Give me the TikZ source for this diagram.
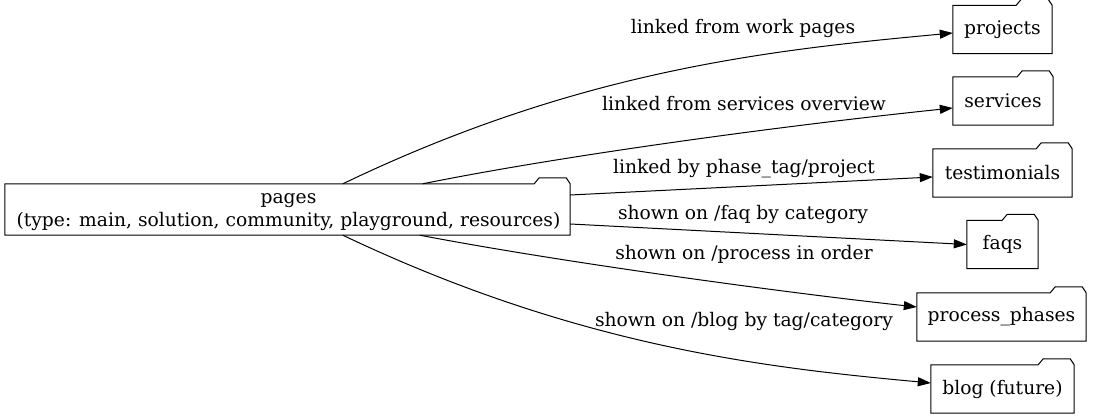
\documentclass[tikz,border=0pt]{standalone}
\usepackage{fontspec}
\setmainfont{DejaVu Serif}
\usetikzlibrary{arrows.meta,calc}
\newcommand\folderline[1]{%
  \draw[fline] (#1.south west) -- (#1.north west) -- ($(#1.north east)+(-36,0)$)
    -- ($(#1.north east)+(-31,-6)$) -- ($(#1.north east)+(-4,-6)$)
    -- (#1.north east) -- (#1.south east) -- cycle;}
\begin{document}
\begin{tikzpicture}[x=1pt,y=-1pt,
  folder/.style={draw=none, inner sep=0pt, font=\fontsize{18.7}{23}\selectfont, align=center, minimum height=48pt},
  lbl/.style={inner sep=0pt, font=\fontsize{18.7}{23}\selectfont},
  fline/.style={line width=1pt, line join=miter},
  edge/.style={line width=1pt, -{Triangle[length=13pt,width=9pt]}}]
\useasboundingbox (0,0) rectangle (1093,419);
\node[folder, minimum width=565pt, minimum height=51pt] (pages) at (287.5,209.5) {};
\node[lbl, align=center] (pagestext) at ($(pages.center)+(1,3)$)
  {pages\\(type: main, solution, community, playground, resources)};
\node[folder, minimum width=99pt] (projects) at (1002.5,29.5) {projects};
\node[folder, minimum width=100pt] (services) at (1003,101) {services};
\node[folder, minimum width=139pt] (testimonials) at (1002.5,173) {testimonials};
\node[folder, minimum width=71pt] (faqs) at (1002.5,244.5) {faqs};
\node[folder, minimum width=169pt] (process) at (1001.5,317) {process\_phases};
\node[folder, minimum width=143pt] (blog) at (1002.5,389) {blog (future)};
\foreach \n in {pages,projects,services,testimonials,faqs,process,blog} {\folderline{\n}}
\draw[edge] ($(pages.north west)+(338,0)$) .. controls (580,70) and (770,50) .. ($(projects.west)+(0,3.5)$);
\draw[edge] ($(pages.north west)+(418,0)$) .. controls (560,156) and (780,126) .. ($(services.west)+(0,7)$);
\draw[edge] ($(pages.east)+(0,-14.5)$) -- ($(testimonials.west)+(0,4)$);
\draw[edge] ($(pages.east)+(0,14.5)$) -- (faqs.west);
\draw[edge] ($(pages.south west)+(415,0)$) .. controls (560,262) and (780,292) .. ($(process.west)+(0,-10)$);
\draw[edge] ($(pages.south west)+(338,0)$) .. controls (580,348) and (770,368) .. ($(blog.west)+(0,-6)$);
\node[lbl] (l1) at (743,28) {linked from work pages};
\node[lbl] (l2) at (744,104) {linked from services overview};
\node[lbl] (l3) at (744,169) {linked by phase\_tag/project};
\node[lbl] (l4) at (743,214) {shown on /faq by category};
\node[lbl] (l5) at (744,254) {shown on /process in order};
\node[lbl] (l6) at (744,321) {shown on /blog by tag/category};
\end{tikzpicture}
\end{document}
